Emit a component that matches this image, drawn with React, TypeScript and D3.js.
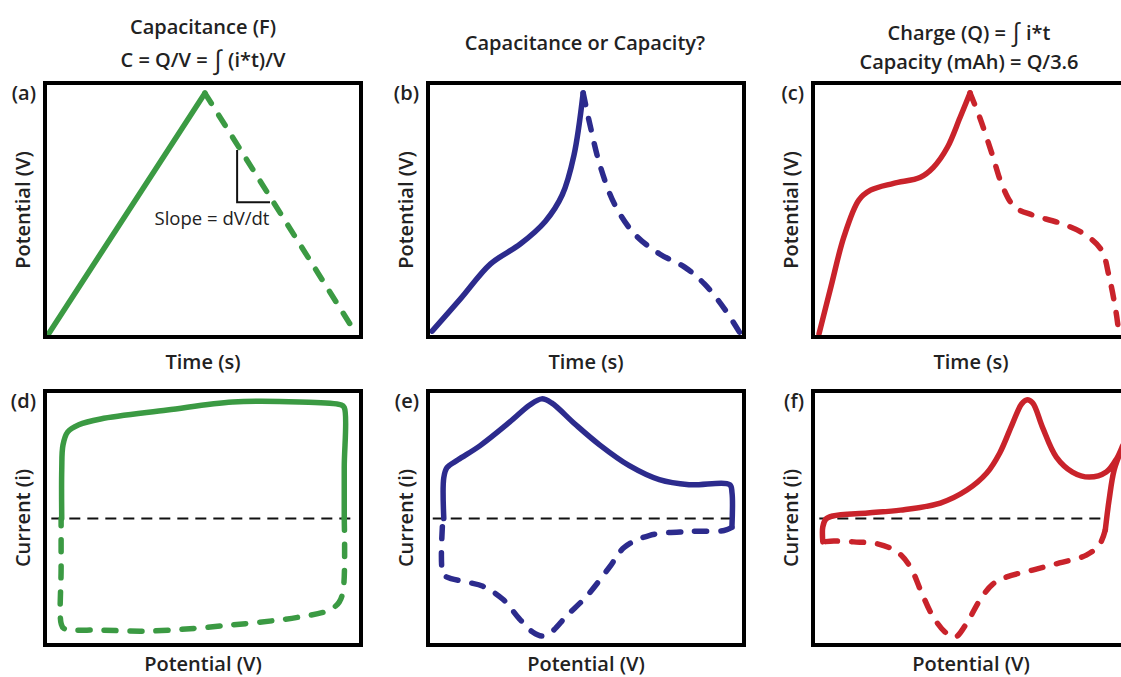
import React from 'react';
import * as d3 from 'd3';

type Pt = [number, number];

// all curves in a 0..100 frame of their own panel box (x left->right, y bottom->top)
const chargeA: Pt[] = [[1, 1], [50.6, 96]];
const dischargeA: Pt[] = [[50.6, 96], [98.7, 0.8]];

const chargeB: Pt[] = [
  [1.3, 2.3], [10.4, 15.2], [19.8, 28.8], [29.2, 36.6], [37.1, 45.5],
  [42.5, 56.0], [46.2, 71.6], [49.1, 96.1],
];
const dischargeB: Pt[] = [
  [49.1, 96.1], [51.3, 83.3], [54.4, 67.7], [59.1, 52.1], [65.4, 40.5],
  [73.3, 32.7], [81.1, 27.6], [87.4, 21.0], [93.7, 11.3], [98.7, 1.6],
];

const chargeC: Pt[] = [
  [1.9, 1.2], [5.7, 19.9], [9.8, 39.5], [14.5, 53.9], [18.2, 57.8], [25.5, 60.5],
  [34.0, 62.9], [38.1, 66.8], [42.5, 74.6], [46.5, 86.3], [49.7, 96.1],
];
const dischargeC: Pt[] = [
  [49.7, 96.1], [52.8, 86.3], [56.6, 72.3], [60.1, 59.0], [63.8, 51.2], [69.5, 48.0],
  [78.0, 44.9], [85.2, 41.0], [91.2, 34.4], [93.7, 23.8], [95.9, 9.8], [96.9, 0.4],
];

const anodicD: Pt[] = [
  [5.3, 49.8], [5.3, 69.0], [5.7, 78.8], [7.2, 83.9], [10.7, 86.7], [17.6, 89.0],
  [38.7, 92.5], [59.4, 95.7], [80.5, 95.7], [93.5, 94.6], [94.7, 93.5], [94.7, 70], [94.7, 49.8],
];
const cathodicD: Pt[] = [
  [94.7, 49.8], [94.4, 22.0], [93.1, 16.9], [89.9, 13.7], [80.5, 11.0], [58.5, 7.8],
  [33.3, 5.5], [17.6, 5.9], [6.0, 6.5], [5.1, 8.5], [5.1, 30], [5.1, 49.8],
];

const anodicE: Pt[] = [
  [5.0, 49.8], [5.0, 65.9], [6.0, 69.8], [9.5, 72.9], [16.4, 78.4], [25.9, 87.8],
  [32.2, 94.5], [36.0, 96.9], [39.1, 95.3], [46.4, 87.1], [54.3, 78.8], [63.7, 70.6],
  [73.2, 65.1], [82.6, 63.1], [95.5, 63.1], [96.2, 60], [96.2, 47.1],
];
const cathodicE: Pt[] = [
  [96.2, 46.3], [93.7, 45.1], [82.6, 44.7], [70.0, 43.1], [62.1, 38.4], [57.4, 30.6],
  [50.2, 19.2], [43.8, 11.4], [39.4, 5.5], [36.3, 3.5], [33.1, 5.1], [29.0, 10.2],
  [23.7, 18.0], [17.4, 23.1], [12.6, 24.7], [6.0, 26.7], [4.7, 28.2], [4.7, 49.8],
];

const anodicF: Pt[] = [
  [3.1, 40.6], [3.1, 46.5], [4.1, 49.6], [6.3, 50.8], [17.3, 52.0], [27.7, 53.1],
  [40.3, 55.9], [48.7, 61.0], [55.0, 67.7], [59.1, 75.6], [63.2, 87.4], [66.0, 94.9],
  [67.6, 96.5], [69.5, 95.3], [72.6, 85.8], [77.0, 74.0], [82.1, 68.1], [87.4, 66.1],
  [92.8, 68.1], [96.2, 73.6], [98.1, 78.7], [95.3, 68.9], [93.7, 57.1], [92.5, 45.3],
];
const cathodicF: Pt[] = [
  [92.5, 45.3], [90.6, 39.4], [86.5, 35.4], [78.0, 32.3], [69.5, 29.5], [61.3, 26.8],
  [56.9, 24.0], [52.8, 17.7], [48.7, 8.7], [45.0, 3.1], [41.8, 5.1], [37.7, 11.8],
  [34.0, 21.7], [30.8, 30.7], [26.7, 36.6], [20.4, 39.8], [12.9, 40.6], [6.6, 40.9], [3.1, 40.6],
];

const slopeMark: Pt[] = [[60.8, 73.6], [60.8, 53.1], [71.2, 53.1]];
const zeroLevel = 49.8;

const panelLetters = ['(a)', '(b)', '(c)', '(d)', '(e)', '(f)'];
const xLabels = ['Time (s)', 'Potential (V)'];
const yLabels = ['Potential (V)', 'Current (i)'];

const GREEN = '#3b9a43';
const BLUE = '#2c2b8d';
const RED = '#c9232b';

const W = 1121;
const H = 677;
const colLeft = [45, 428, 813];
const rowTop = [83, 391];
const boxW = 316;
const boxH = 254;
const font = "'Open Sans', 'DejaVu Sans', sans-serif";
const FS = 20;

const panels = [
  { solid: chargeA, dashed: dischargeA, color: GREEN, linear: true },
  { solid: chargeB, dashed: dischargeB, color: BLUE },
  { solid: chargeC, dashed: dischargeC, color: RED },
  { solid: anodicD, dashed: cathodicD, color: GREEN, zero: [2, 97] },
  { solid: anodicE, dashed: cathodicE, color: BLUE, zero: [1.5, 98] },
  { solid: anodicF, dashed: cathodicF, color: RED, zero: [2, 93] },
];

const Panel: React.FC<{ i: number }> = ({ i }) => {
  const p = panels[i];
  const row = Math.floor(i / 3);
  const col = i % 3;
  const left = colLeft[col];
  const top = rowTop[row];
  const x = d3.scaleLinear().domain([0, 100]).range([left, left + boxW]);
  const y = d3.scaleLinear().domain([0, 100]).range([top + boxH, top]);
  const line = d3.line<Pt>()
    .x(d => x(d[0]))
    .y(d => y(d[1]))
    .curve(p.linear ? d3.curveLinear : d3.curveCatmullRom.alpha(0.5));
  const cx = left + boxW / 2;
  return (
    <g>
      {p.zero && (
        <line x1={x(p.zero[0])} x2={x(p.zero[1])} y1={y(zeroLevel)} y2={y(zeroLevel)}
          stroke="#111" strokeWidth={2} strokeDasharray="11,7" />
      )}
      <path d={line(p.dashed) || ''} fill="none" stroke={p.color} strokeWidth={5.5}
        strokeDasharray="12,14" strokeLinecap="round" strokeLinejoin="round" />
      <path d={line(p.solid) || ''} fill="none" stroke={p.color} strokeWidth={5.5}
        strokeLinecap="round" strokeLinejoin="round" />
      {i === 0 && (
        <>
          <path d={d3.line<Pt>().x(d => x(d[0])).y(d => y(d[1]))(slopeMark) || ''}
            fill="none" stroke="#111" strokeWidth={2} />
          <text x={212} y={225} textAnchor="middle" fontSize={18.5} fontWeight={500}
            fontFamily={font} fill="#222">Slope = dV/dt</text>
        </>
      )}
      <rect x={left} y={top} width={boxW} height={boxH} fill="none" stroke="#000" strokeWidth={4} />
      <text x={left - 9} y={top + 17} textAnchor="end" fontSize={FS} fontWeight={600}
        fontFamily={font} fill="#222">{panelLetters[i]}</text>
      <text x={cx} y={row === 0 ? 369 : 671} textAnchor="middle" fontSize={FS} fontWeight={600}
        fontFamily={font} fill="#222">{xLabels[row]}</text>
      <text transform={`translate(${left - 15},${top + boxH / 2}) rotate(-90)`} textAnchor="middle"
        fontSize={FS} fontWeight={600} fontFamily={font} fill="#222">{yLabels[row]}</text>
    </g>
  );
};

const App: React.FC = () => {
  const t = { fontSize: FS, fontWeight: 600, fontFamily: font, fill: '#222', textAnchor: 'middle' as const };
  return (
    <div style={{ position: 'absolute', left: 0, top: 0, width: W, height: H, background: '#fff' }}>
      <svg width={W} height={H} style={{ display: 'block' }}>
        <rect width={W} height={H} fill="#fff" />
        <text x={203} y={34} {...t}>Capacitance (F)</text>
        <text x={203} y={67} {...t}>C = Q/V = <tspan fontSize={26} fontWeight={400} dy={2}>∫</tspan><tspan dy={-2}> (i*t)/V</tspan></text>
        <text x={585} y={50} {...t}>Capacitance or Capacity?</text>
        <text x={969} y={40} {...t}>Charge (Q) = <tspan fontSize={25} fontWeight={400} dy={1}>∫</tspan><tspan dy={-1}> i*t</tspan></text>
        <text x={969} y={69} {...t}>Capacity (mAh) = Q/3.6</text>
        {panels.map((_, i) => <Panel key={i} i={i} />)}
      </svg>
    </div>
  );
};

export default App;
